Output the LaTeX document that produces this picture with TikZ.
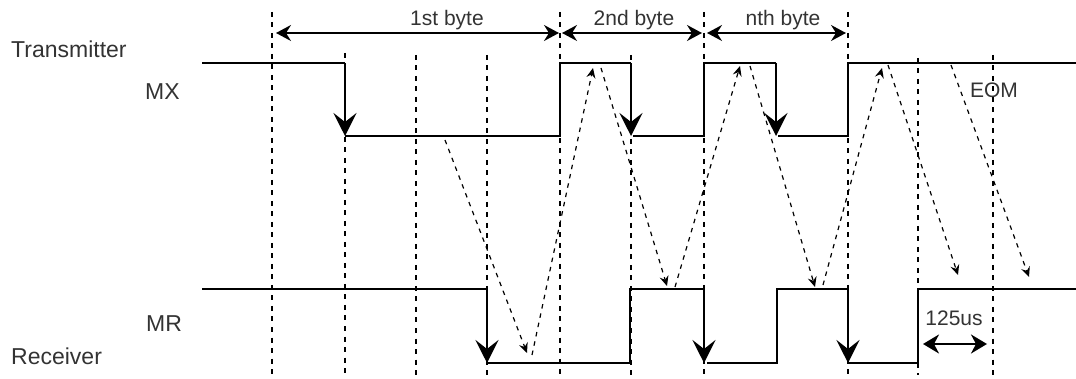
\documentclass[tikz,border=0pt]{standalone}
\usepackage{fontspec}
\setmainfont{Liberation Sans}
\usetikzlibrary{arrows.meta}
\definecolor{txt}{RGB}{51,51,51}
\tikzset{
  wave/.style={line width=2.3pt, line cap=butt, line join=miter},
  drop/.style={wave, -{Stealth[length=23pt,width=23pt,inset=9pt]}},
  grid/.style={line width=1.2pt, dash pattern=on 5pt off 5.5pt},
  sig/.style={line width=1.2pt, dash pattern=on 4.5pt off 5pt, -{Stealth[length=10pt,width=9pt,inset=3.5pt]}},
  dim/.style={line width=1.6pt, {Stealth[length=15pt,width=16pt,inset=5pt]}-{Stealth[length=15pt,width=16pt,inset=5pt]}},
  dimb/.style={line width=2pt, {Stealth[length=16pt,width=19pt,inset=5pt]}-{Stealth[length=16pt,width=19pt,inset=5pt]}},
  lbl/.style={inner sep=0pt, text=txt, font=\fontsize{21}{25}\selectfont},
  side/.style={inner sep=0pt, text=txt, font=\fontsize{23}{27}\selectfont, anchor=base west}
}
\begin{document}
\begin{tikzpicture}[x=1pt,y=-1pt]
\useasboundingbox (0,0) rectangle (1076,379);
% vertical dashed grid lines
\foreach \x/\t in {272/12,345/53,416/55,487/55,560/12,631/55,704/12,848/12,918/58,993/55}
  \draw[grid] (\x,\t) -- (\x,375);
% MX waveform
\draw[wave] (202,63) -- (345,63);
\draw[drop] (345,63) -- (345,136);
\draw[wave] (345,136) -- (560,136) -- (560,63) -- (631,63);
\draw[drop] (631,63) -- (631,136);
\draw[wave] (633,136) -- (704,136) -- (704,63) -- (776,63);
\draw[drop] (776,63) -- (776,136);
\draw[wave] (778,136) -- (848,136) -- (848,63) -- (1076,63);
% MR waveform
\draw[wave] (202,289) -- (487,289);
\draw[drop] (487,289) -- (487,363);
\draw[wave] (487,363) -- (630,363) -- (630,289) -- (704,289);
\draw[drop] (704,289) -- (704,363);
\draw[wave] (707,363) -- (777,363) -- (777,289) -- (848,289);
\draw[drop] (848,289) -- (848,363);
\draw[wave] (848,363) -- (918,363) -- (918,289) -- (1076,289);
% signal propagation
\coordinate (s1a) at (445,140); \coordinate (s1b) at (527,353);
\coordinate (s2a) at (532,355); \coordinate (s2b) at (593,68);
\coordinate (s3a) at (601,68);  \coordinate (s3b) at (667,286);
\coordinate (s4a) at (675,287); \coordinate (s4b) at (740,66);
\coordinate (s5a) at (750,66);  \coordinate (s5b) at (815,287);
\coordinate (s6a) at (823,285); \coordinate (s6b) at (882,68);
\coordinate (s7a) at (888,65);  \coordinate (s7b) at (958,275);
\coordinate (s8a) at (951,65);  \coordinate (s8b) at (1029,277);
\foreach \i in {1,...,8} \draw[sig] (s\i a) -- (s\i b);
% dimension arrows
\coordinate (d1a) at (276,33); \coordinate (d1b) at (559,33);
\coordinate (d2a) at (562,33); \coordinate (d2b) at (702,33);
\coordinate (d3a) at (707,33); \coordinate (d3b) at (846,33);
\draw[dim] (d1a) -- (d1b);
\draw[dim] (d2a) -- (d2b);
\draw[dim] (d3a) -- (d3b);
\coordinate (t1) at (923,344); \coordinate (t2) at (987,344);
\draw[dimb] (t1) -- (t2);
% labels
\node[lbl, anchor=base] (b1) at (447,26) {1st byte};
\node[lbl, anchor=base] (b2) at (634,26) {2nd byte};
\node[lbl, anchor=base] (b3) at (783,26) {nth byte};
\node[lbl, anchor=base] (eom) at (994,98) {EOM};
\node[lbl, anchor=base] (us) at (954,325) {125us};
\node[side] (tx) at (11,58) {Transmitter};
\node[side] (mx) at (145,100) {MX};
\node[side] (mr) at (146,331) {MR};
\node[side] (rx) at (11,364) {Receiver};
\end{tikzpicture}
\end{document}
